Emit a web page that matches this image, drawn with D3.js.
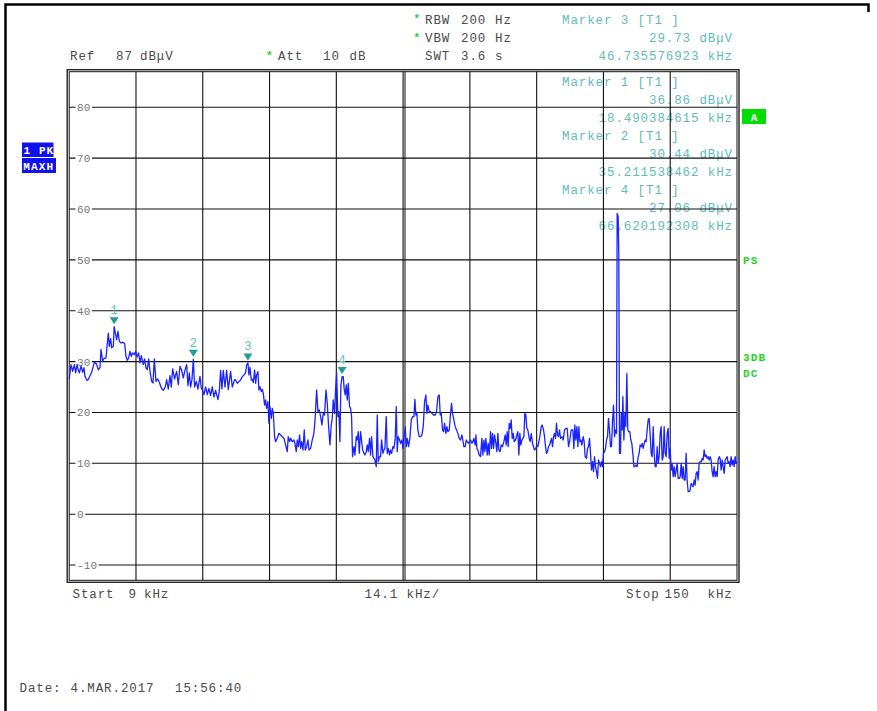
<!DOCTYPE html>
<html><head><meta charset="utf-8">
<script src="https://cdn.jsdelivr.net/npm/d3@7"></script>
<style>
body{margin:0;background:#fff}
svg{display:block}
text{font-family:"Liberation Mono","Courier New",monospace}
</style></head>
<body><svg id="c" width="877" height="711"></svg>
<script>
// ---------- DATA ----------
const startKHz = 9, stopKHz = 150, spanPerDivKHz = 14.1, divisions = 10;
const refLevel = 87, bottomLevel = -13;
const yTicks = [80, 70, 60, 50, 40, 30, 20, 10, 0, -10];

const freqA = [9.0,9.38,9.73,10.08,10.37,10.65,10.93,11.14,11.49,11.84,
12.12,12.34,12.76,13.04,13.39,13.74,14.09,14.38,14.80,15.15,
15.50,15.71,16.06,16.42,16.77,17.05,17.26,17.47,17.75,17.96,
18.32,18.49,19.02,19.30,19.58,19.93,20.29,20.71,20.99,21.27,
21.55,21.83,22.12,22.40,22.75,23.03,23.31,23.66,23.94,24.23,
24.65,24.93,25.21,25.49,25.77,26.06,26.41,26.69,26.97,27.32,
27.67,28.03,28.45,28.87,29.29,29.57,29.93,30.28,30.56,30.84,
31.26,31.68,32.04,32.39,32.74,33.09,33.44,33.80,34.08,34.36,
34.64,34.92,35.21,35.48,35.84,36.19,36.61,36.89,37.17,37.45,
37.81,38.16,38.51,38.86,39.21,39.56,39.92,40.41,40.69,40.97,
41.25,41.53,41.89,42.24,42.59,43.08,43.43,43.93];
const levelA = [26.5,29.4,28.1,29.4,27.8,29.4,28.3,27.8,29.1,27.9,
28.8,27.1,26.3,26.5,27.2,27.9,29.1,30.0,29.4,28.4,
28.8,32.4,30.1,30.7,30.7,33.7,35.6,33.0,34.5,32.7,
33.0,36.86,34.33,35.97,34.0,33.67,33.8,33.54,31.05,30.26,
30.72,32.03,31.05,31.7,31.37,32.03,30.91,31.7,29.73,31.18,
29.41,30.52,28.75,28.42,30.52,28.09,26.12,25.8,30.52,26.12,
26.58,25.93,24.81,24.35,25.01,26.45,24.61,27.24,25.01,28.55,
26.58,28.09,25.47,29.08,28.29,26.78,28.29,29.41,25.27,27.76,
25.01,26.45,30.44,25.01,26.12,24.61,27.11,24.81,24.35,23.5,
25.01,23.5,24.75,23.3,25.01,23.04,24.35,22.52,24.15,28.29,
24.61,28.29,25.01,28.29,24.48,28.09,25.01,26.45];

const freqB = [44.14,44.49,44.84,45.19,45.55,45.90,46.25,46.46,46.74,46.95,
47.16,47.44,47.66,47.87,48.15,48.36,48.57,48.85,49.06,49.27,
49.56,49.77,49.98,50.26,50.47,50.68,50.96,51.17,51.39,51.67,
51.88,52.09,52.37,52.58,52.93,53.29,53.64,53.99,54.34,54.69,
55.04,55.25,55.54,55.75,56.10,56.45,56.66,56.94,57.15,57.37,
57.65,57.86,58.07,58.35,58.63,58.84,59.12,59.41,59.62,59.97,
60.32,60.67,60.95,61.24,61.52,61.80,62.08,62.36,62.64,62.92,
63.21,63.49,63.77,64.05,64.33,64.54,64.75,65.03,65.25,65.46,
65.74,65.95,66.16,66.37,66.62,66.86,67.08,67.29,67.50,67.71,
67.92,68.20,68.41,68.62,68.83,69.12,69.33,69.61,69.82,70.03,
70.24,70.52,70.73,70.95,71.23,71.44,71.72,71.93,72.14,72.42,
72.63,72.84,73.13,73.34,73.55,73.83,74.04,74.25,74.53,74.74,
74.96,75.24,75.45,75.66,75.94,76.15,76.36,76.64,76.85,77.07,
77.35,77.56,77.84,78.05,78.26,78.47,78.76,78.97];
const levelB = [26.39,25.73,26.06,26.39,27.04,27.37,27.83,29.33,29.73,27.37,
28.88,26.39,26.52,25.86,28.35,25.73,27.37,28.02,24.42,25.07,
24.09,24.55,23.76,21.47,22.45,20.81,22.12,17.87,21.14,18.85,
20.81,19.83,15.24,14.26,14.92,15.9,15.57,15.24,14.92,13.61,
12.29,15.24,14.26,14.92,14.26,14.59,13.93,12.29,14.59,13.28,
15.57,12.95,14.26,12.62,16.55,12.62,13.28,14.59,12.62,12.95,
14.59,15.9,19.18,24.42,20.16,20.49,19.18,17.54,19.83,19.50,
24.42,21.80,17.21,13.61,17.54,18.85,22.45,19.83,24.75,27.70,
19.18,20.16,14.26,25.40,27.06,27.04,24.42,23.44,25.40,22.45,
25.73,21.14,20.81,19.18,11.31,13.28,11.64,15.24,14.59,16.23,
11.97,16.23,14.59,12.62,11.97,11.64,12.29,13.61,12.29,14.92,
11.64,15.24,11.31,10.98,10.66,9.34,19.50,10.33,11.31,11.31,
14.59,11.97,12.62,12.95,19.18,11.97,12.95,11.64,12.62,11.97,
13.28,12.95,14.92,21.14,12.29,15.24,14.59,13.93];

const freqC = [79.25,79.46,79.67,79.95,80.16,80.37,80.65,80.93,81.22,81.50,
81.78,81.99,82.20,82.41,82.62,82.91,83.19,83.47,83.75,84.03,
84.31,84.52,84.73,85.02,85.30,85.58,85.93,86.28,86.56,86.85,
87.13,87.34,87.55,87.83,88.04,88.25,88.53,88.75,88.96,89.24,
89.52,89.73,89.94,90.22,90.50,90.79,91.07,91.35,91.63,91.91,
92.12,92.33,92.61,92.83,93.04,93.32,93.53,93.74,94.02,94.23,
94.44,94.73,94.87,95.08,95.29,95.57,95.85,96.13,96.34,96.55,
96.77,96.98,97.26,97.47,97.68,97.96,98.17,98.38,98.60,98.81,
99.09,99.30,99.51,99.72,100.00,100.21,100.49,100.78,101.06,101.27,
101.48,101.69,101.90,102.11,102.32,102.54,102.75,102.96,103.24,103.52,
103.73,103.94,104.15,104.36,104.58,104.79,105.00,105.21,105.42,105.63,
105.84,106.12,106.33,106.55,106.83,107.04,107.25,107.53,107.74,107.95,
108.16,108.37,108.66,108.87,109.15,109.36,109.57,109.78,109.99,110.20,
110.42,110.63,110.84,111.05,111.26,111.47,111.68,111.89,112.10,112.31,
112.53,112.74,113.02,113.30,113.58,113.86,114.15,114.43,114.71,114.99];
const levelC = [14.58,12.94,14.91,17.20,13.27,14.91,13.27,14.91,18.52,19.17,
19.17,22.58,19.50,19.83,16.55,15.24,15.24,15.57,17.20,22.12,
23.43,19.83,21.46,20.15,20.15,19.83,19.50,19.50,20.15,23.10,
23.43,19.50,19.83,16.55,16.22,17.86,15.89,17.20,16.22,16.55,
19.83,21.79,19.83,18.52,17.20,16.55,15.89,14.91,14.58,15.57,
14.58,13.27,13.27,14.58,14.26,13.93,14.26,14.58,13.93,14.26,
14.91,13.60,15.57,12.94,12.62,11.63,11.31,14.91,11.63,14.58,
12.29,14.91,11.63,13.93,11.63,16.22,12.94,15.89,12.94,15.57,
13.93,12.29,15.89,12.62,12.29,13.60,13.27,14.26,15.57,13.60,
16.22,13.27,17.86,16.88,18.52,14.91,15.89,14.26,14.58,15.57,
16.22,11.63,15.89,13.60,14.58,14.91,15.24,19.83,19.50,16.88,
16.55,14.91,14.26,15.89,13.93,13.27,12.62,12.94,13.60,13.27,
14.26,15.24,17.20,17.53,16.55,15.24,13.27,11.96,12.29,13.27,
13.60,14.26,14.91,13.27,15.24,15.89,14.91,17.86,15.57,15.24,
16.55,14.91,15.24,14.58,16.55,16.88,16.88,13.27,14.58,16.55];

const freqD = [115.34,115.55,115.76,115.97,116.19,116.40,116.61,116.82,117.03,117.24,
117.52,117.73,117.94,118.23,118.44,118.65,118.86,119.07,119.28,119.49,
119.70,119.91,120.13,120.34,120.55,120.76,120.97,121.18,121.39,121.60,
121.81,122.03,122.24,122.45,122.66,122.87,123.08,123.29,123.50,123.71,
123.93,124.14,124.35,124.56,124.70,124.91,125.05,125.19,125.40,125.54,
125.75,125.90,126.11,126.32,126.53,126.74,126.95,127.16,127.37,127.58,
127.79,128.01,128.22,128.43,128.64,128.92,129.13,129.34,129.55,129.76,
129.98,130.19,130.40,130.61,130.82,131.03,131.24,131.45,131.66,131.88,
132.09,132.30,132.51,132.72,132.93,133.14,133.35,133.56,133.78,133.99,
134.20,134.41,134.62,134.83,135.04,135.25,135.46,135.68,135.89,136.10,
136.31,136.52,136.73,136.94,137.15,137.36,137.57,137.79,138.00,138.21,
138.42,138.63,138.84,139.05,139.26,139.47,139.69,139.90,140.11,140.32,
140.53,140.74,140.95,141.16,141.37,141.59,141.80,142.01,142.22,142.43,
142.64,142.85,143.06,143.27,143.49,143.70,143.91,144.12,144.33,144.54,
144.75,144.96,145.17,145.39,145.60,145.81,146.02,146.23,146.44,146.65,
146.86,147.07,147.29,147.50,147.71,147.92,148.13,148.34,148.55,148.76,
148.97,149.19,149.40,149.61,149.82,150.00];
const levelD = [16.55,12.94,17.53,14.58,17.20,13.27,17.20,14.25,14.58,13.60,
15.24,14.25,11.30,10.98,12.94,13.27,14.91,11.96,8.68,10.32,
8.35,11.30,9.34,8.35,7.04,10.65,9.99,9.34,10.32,9.34,
11.96,12.29,12.94,14.58,15.24,18.84,16.55,13.27,13.27,18.19,
21.46,15.24,16.55,15.89,59.15,58.5,50.63,11.96,11.96,19.82,
16.55,23.10,14.58,19.82,17.20,27.69,16.55,16.22,16.22,14.58,
13.93,11.96,9.34,9.34,9.67,9.34,11.30,11.96,13.60,13.27,
13.93,12.94,13.93,14.58,14.25,16.55,18.51,18.84,15.89,11.96,
11.30,17.20,11.96,9.34,9.34,13.27,9.99,11.30,15.89,17.20,
10.65,11.30,17.20,11.96,11.30,15.89,16.88,10.98,12.94,8.68,
9.99,7.37,9.34,7.37,8.68,9.99,7.04,7.04,7.37,9.99,
7.04,9.34,6.72,6.72,11.96,6.72,4.42,4.42,4.75,6.06,
5.73,5.40,6.72,5.73,8.03,8.35,6.72,9.99,10.32,10.32,
10.98,10.65,12.62,11.30,11.63,10.98,11.30,10.65,11.30,10.65,
8.35,7.37,9.34,7.37,8.35,7.37,10.65,11.30,10.98,8.68,
10.65,9.34,8.03,10.65,10.98,11.30,9.99,10.32,9.34,11.30,
9.67,10.65,9.34,11.30,9.99,10.3];

const markerIds = ["1", "2", "3", "4"];
const markerFreqs = [18.490384615, 35.211538462, 46.735576923, 66.620192308];
const markerLevels = [36.86, 30.44, 29.73, 27.06];
const markerListOrder = [2, 0, 1, 3];

// ---------- DRAW ----------
const svg = d3.select("#c");
const x = d3.scaleLinear().domain([startKHz, stopKHz]).range([69.2, 737]);
const y = d3.scaleLinear().domain([bottomLevel, refLevel]).range([580.3, 71.7]);
const [x0, x1] = x.range();
const [yb, yt] = y.range();
const W = x1 - x0, H = yb - yt;

const freqs = freqA.concat(freqB, freqC, freqD);
const levels = levelA.concat(levelB, levelC, levelD);
const trace = freqs.map((f, i) => [f, levels[i]]);

const gray = "#4a4a4a", teal = "#5fbcbc", green = "#1fd41f";
const FS = 12.5, LS = 0.9;

// outer frame
svg.append("path").attr("d", "M5.5,711 V4.5 H868.5 V12")
  .attr("fill", "none").attr("stroke", "#000").attr("stroke-width", 2.5);

function txt(g, s, xx, yy, opt = {}) {
  return g.append("text").attr("x", xx).attr("y", yy).text(s)
    .attr("font-size", opt.fs || FS).attr("letter-spacing", opt.ls !== undefined ? opt.ls : LS)
    .attr("fill", opt.fill || gray).attr("font-weight", opt.fw || "normal")
    .attr("text-anchor", opt.anchor || "start");
}
const hdr = svg.append("g");
// header (instrument settings)
txt(hdr, "*", 413.5, 22, {fill: green, fs: 11, fw: "bold"});
txt(hdr, "RBW", 425, 23.5); txt(hdr, "200", 461, 23.5); txt(hdr, "Hz", 495, 23.5);
txt(hdr, "*", 413.5, 40.5, {fill: green, fs: 11, fw: "bold"});
txt(hdr, "VBW", 425, 42); txt(hdr, "200", 461, 42); txt(hdr, "Hz", 495, 42);
txt(hdr, "Ref", 70, 60); txt(hdr, "87", 116, 60); txt(hdr, "dBμV", 140, 60);
txt(hdr, "*", 266, 58.5, {fill: green, fs: 11, fw: "bold"});
txt(hdr, "Att", 278, 60); txt(hdr, "10", 323, 60); txt(hdr, "dB", 349.5, 60);
txt(hdr, "SWT", 425, 60); txt(hdr, "3.6", 461, 60); txt(hdr, "s", 495, 60);

// marker info block
const blockY = [[23.5, 42, 60], [86, 104, 122], [140, 158, 176], [194, 212, 230]];
markerListOrder.forEach((mi, k) => {
  const b = blockY[k];
  txt(hdr, `Marker ${markerIds[mi]} [T1 ]`, 562, b[0], {fill: teal});
  txt(hdr, `${markerLevels[mi].toFixed(2)} dBμV`, 733, b[1], {fill: teal, anchor: "end"});
  txt(hdr, `${markerFreqs[mi].toFixed(9)} kHz`, 733, b[2], {fill: teal, anchor: "end"});
});

// grid via axes
const xTicks = d3.range(divisions + 1).map(i => startKHz + i * spanPerDivKHz);
const gx = svg.append("g").attr("transform", `translate(0,${yt})`)
  .call(d3.axisBottom(x).tickValues(xTicks.slice(1, -1)).tickSize(H).tickFormat("").offset(0));
gx.select(".domain").remove();
gx.selectAll("line").attr("stroke", "#111").attr("stroke-width", 1.1);
const gy = svg.append("g").attr("transform", `translate(${x0},0)`)
  .call(d3.axisRight(y).tickValues(yTicks).tickSize(W).tickFormat("").offset(0));
gy.select(".domain").remove();
gy.selectAll("line").attr("stroke", "#111").attr("stroke-width", 1.1);
// center double line
const xc = x(startKHz + spanPerDivKHz * divisions / 2);
svg.append("line").attr("x1", xc + 1.9).attr("x2", xc + 1.9).attr("y1", yt).attr("y2", yb)
  .attr("stroke", "#111").attr("stroke-width", 1);

// y labels with white background
const yl = svg.append("g");
yTicks.forEach(v => {
  const s = String(v);
  const w = s.length * 6.7;
  yl.append("rect").attr("x", 75.5).attr("y", y(v) - 5).attr("width", w + 3).attr("height", 10).attr("fill", "#fff");
  txt(yl, s, 77, y(v) + 4, {fs: 11, ls: 0.1, fill: "#777"});
});

// plot frame (double)
svg.append("rect").attr("x", x0).attr("y", yt).attr("width", W).attr("height", H)
  .attr("fill", "none").attr("stroke", "#111").attr("stroke-width", 1);
svg.append("rect").attr("x", x0 - 2).attr("y", yt - 2).attr("width", W + 4).attr("height", H + 4)
  .attr("fill", "none").attr("stroke", "#222").attr("stroke-width", 1.4);

// trace
svg.append("path").datum(trace)
  .attr("d", d3.line().x(d => x(d[0])).y(d => y(d[1])))
  .attr("fill", "none").attr("stroke", "#1a22ff").attr("stroke-width", 1.3)
  .attr("stroke-linejoin", "round");

// markers
markerIds.forEach((id, i) => {
  const cx = x(markerFreqs[i]), cy = y(markerLevels[i]);
  svg.append("path").attr("d", `M${cx - 4.5},${cy - 9.5} L${cx + 4.5},${cy - 9.5} L${cx},${cy - 2.5} Z`)
    .attr("fill", "#1f9c96");
  txt(svg, id, cx, cy - 12.5, {fs: 12, ls: 0, fill: teal, anchor: "middle"});
});

// bottom labels
const bt = svg.append("g");
txt(bt, "Start", 72.5, 598); txt(bt, "9", 128.5, 598); txt(bt, "kHz", 144, 598);
txt(bt, `${spanPerDivKHz} kHz/`, 364.5, 598);
txt(bt, "Stop", 626, 598); txt(bt, "150", 664.5, 598); txt(bt, "kHz", 707.5, 598);
txt(bt, "Date:", 19.5, 692); txt(bt, "4.MAR.2017", 70.5, 692); txt(bt, "15:56:40", 175, 692);

// left status boxes
const sb = svg.append("g");
sb.append("rect").attr("x", 22).attr("y", 142.5).attr("width", 31.5).attr("height", 14.5).attr("fill", "#1111ee");
txt(sb, "1 PK", 23.5, 153.5, {fs: 11, ls: 1.1, fill: "#fff", fw: "bold"});
sb.append("rect").attr("x", 22).attr("y", 158).attr("width", 34).attr("height", 15).attr("fill", "#1111ee");
txt(sb, "MAXH", 23.3, 169.5, {fs: 11, ls: 1.1, fill: "#fff", fw: "bold"});

// right status
sb.append("rect").attr("x", 742).attr("y", 109).attr("width", 24).attr("height", 15).attr("fill", "#00dd00");
txt(sb, "A", 754, 120.5, {fs: 11, ls: 0, fill: "#fff", fw: "bold", anchor: "middle"});
txt(sb, "PS", 743, 264, {fs: 11, ls: 1.1, fill: green, fw: "bold"});
txt(sb, "3DB", 743, 361, {fs: 11, ls: 1.1, fill: green, fw: "bold"});
txt(sb, "DC", 743, 377, {fs: 11, ls: 1.1, fill: green, fw: "bold"});
</script>
</body></html>
